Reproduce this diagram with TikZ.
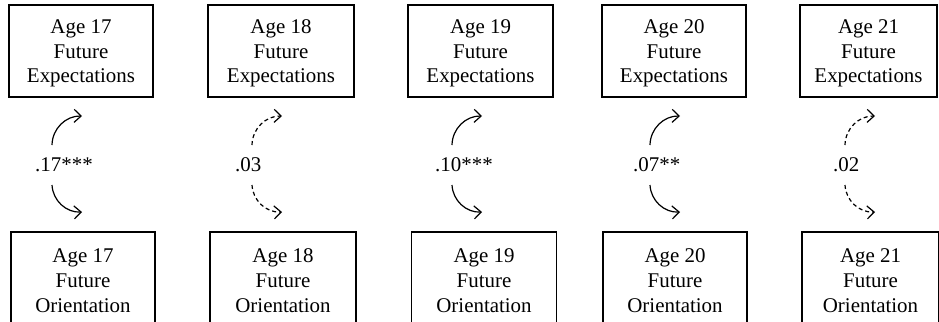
\documentclass[tikz,border=0pt]{standalone}
\usepackage{fontspec}
\setmainfont{Liberation Serif}
\usetikzlibrary{arrows.meta}
\tikzset{agebox/.style={draw, line width=1.4bp, align=center, minimum height=92bp,
      inner sep=0pt, font=\fontsize{21}{25}\selectfont}}
\tikzset{coef/.style={anchor=west, inner sep=0pt, font=\fontsize{21}{25}\selectfont}}
\tikzset{sig/.style={-{Straight Barb[length=7bp,width=13bp]}, line width=1.2bp}}
\tikzset{nsig/.style={sig, dash pattern=on 4bp off 3bp}}

\begin{document}
\begin{tikzpicture}[x=1bp,y=-1bp]
		\useasboundingbox (0,0) rectangle (939,321);
		\foreach \age/\xt/\xb/\bw/\xs/\xl/\cf/\ln in {17/81/83/144/52/35/.17***/sig,
		    18/281/283/146/252/235/.03/nsig, 19/480.5/484/145/452/435/.10***/sig,
		    20/674/675/144/650/633/.07**/sig, 21/868.5/870.5/137/845/833/.02/nsig}{
		\node[agebox, minimum width=\bw bp] (fe\age) at (\xt,51) {\rule{0pt}{18.5bp}Age \age\\Future\\Expectations};
		\node[agebox, minimum width=\bw bp] (fo\age) at (\xb,278) {\rule{0pt}{18.5bp}Age \age\\Future\\Orientation};
		\node[coef] (r\age) at (\xl,165) {\cf};
		\coordinate (us\age) at (\xs,145);
		\coordinate (ut\age) at (\xs+30,116);
		\coordinate (ds\age) at (\xs,185);
		\coordinate (dt\age) at (\xs+30,212);
		\draw[\ln] (us\age) to[bend left=45] (ut\age);
		\draw[\ln] (ds\age) to[bend right=45] (dt\age);
		}
		\end{tikzpicture}
\end{document}
